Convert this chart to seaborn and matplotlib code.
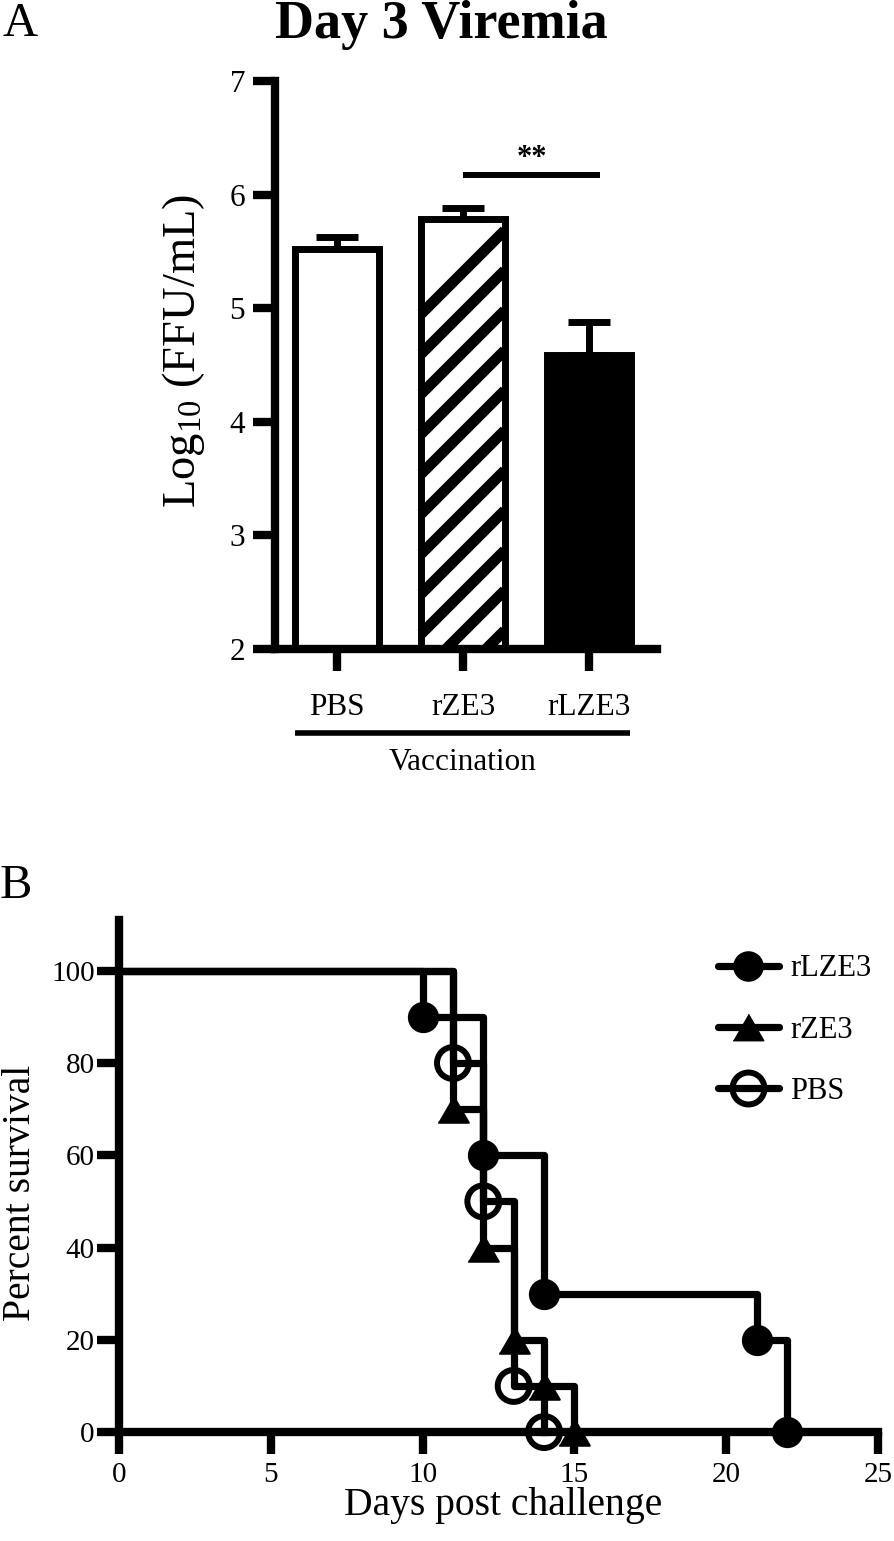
import matplotlib
matplotlib.use("Agg")
import matplotlib.pyplot as plt
import matplotlib.transforms as mtransforms
from matplotlib.lines import Line2D
from matplotlib.patches import Rectangle
import numpy as np
import pandas as pd
import seaborn as sns

# panel A: day 3 viremia (mean + SEM, log10 FFU/mL)
groups = ["PBS", "rZE3", "rLZE3"]
viremia_mean = [5.52, 5.78, 4.59]
viremia_sem = [0.11, 0.10, 0.29]
bar_colors = ["white", "white", "black"]

# panel B: survival after challenge
rlze3_days = [0, 10, 12, 14, 21, 22]
rlze3_pct = [100, 90, 60, 30, 20, 0]
rze3_days = [0, 11, 12, 13, 14, 15]
rze3_pct = [100, 70, 40, 20, 10, 0]
pbs_days = [0, 11, 12, 13, 14]
pbs_pct = [100, 80, 50, 10, 0]

sns.set_style("ticks")
plt.rcParams["font.family"] = ["Liberation Serif", "DejaVu Serif"]
plt.rcParams["mathtext.fontset"] = "custom"
plt.rcParams["mathtext.rm"] = "Liberation Serif"
plt.rcParams["mathtext.it"] = "Liberation Serif:italic"
plt.rcParams["mathtext.bf"] = "Liberation Serif:bold"
for key in ["axes.edgecolor", "xtick.color", "ytick.color", "text.color",
            "axes.labelcolor", "xtick.labelcolor", "ytick.labelcolor"]:
    plt.rcParams[key] = "black"

LW = 6  # axis line width (pt)
tri = [(-1, -0.866), (1, -0.866), (0, 0.866)]

fig = plt.figure(figsize=(8.95, 15.41), dpi=100)
ax1 = fig.add_axes([0.3073, 0.5789, 0.4268, 0.3686])
ax2 = fig.add_axes([0.1330, 0.0707, 0.8480, 0.3323])

# ---- panel A ----
sns.barplot(x=groups, y=viremia_mean, hue=groups, palette=bar_colors, saturation=1,
            edgecolor="black", linewidth=5, width=0.66, legend=False, ax=ax1, zorder=2)
ax1.errorbar(range(len(groups)), viremia_mean,
             yerr=[np.zeros(len(groups)), viremia_sem],
             fmt="none", ecolor="black", elinewidth=5, capsize=15, capthick=5, zorder=3)
ax1.set_xlim(-0.492, 2.54)
ax1.set_ylim(2, 7)
ax1.set_yticks([2, 3, 4, 5, 6, 7])

# diagonal hatching on the rZE3 bar
bar = [p for p in ax1.patches if abs(p.get_x() + p.get_width() / 2 - 1) < 0.01][0]
x0, x1 = bar.get_x(), bar.get_x() + bar.get_width()
y0, y1 = ax1.get_ylim()[0], bar.get_y() + bar.get_height()
(px0, py0), (px1, py1) = ax1.transData.transform([(x0, y0), (x1, y1)])
clip = Rectangle((x0, y0), x1 - x0, y1 - y0, transform=ax1.transData)
span = px1 - px0
for c in np.arange(py1 - 11 - span, py0 - span - 40, -40):
    hl = Line2D([px0, px1], [c, c + span], color="black", lw=7.8,
                solid_capstyle="butt", transform=mtransforms.IdentityTransform(), zorder=2.5)
    hl.set_clip_path(clip)
    ax1.add_line(hl)

# significance
ax1.plot([1, 2.09], [6.17, 6.17], color="black", lw=4.3, solid_capstyle="butt", zorder=3)
ax1.text(1.545, 6.19, "**", ha="center", va="bottom", fontsize=22, fontweight="bold")

sns.despine(ax=ax1)
for s in ["left", "bottom"]:
    ax1.spines[s].set_linewidth(LW)
ax1.tick_params(axis="both", width=LW, length=15.5, labelsize=22.5, color="black")
ax1.tick_params(axis="x", pad=16)
ax1.tick_params(axis="y", pad=6)
ax1.set_xlabel("Vaccination", fontsize=22.5)
ax1.xaxis.set_label_coords(0.492, -0.2007)
ax1.xaxis.label.set_va("center")
ax1.set_ylabel(r"Log$_{10}$ (FFU/mL)", fontsize=33.5)
ax1.yaxis.set_label_coords(-0.239, 0.524)
ax1.yaxis.label.set_va("center")
grp = mtransforms.blended_transform_factory(ax1.transData, ax1.transAxes)
ax1.plot([-0.333, 2.325], [-0.148, -0.148], color="black", lw=4, transform=grp,
         clip_on=False, solid_capstyle="butt")

fig.text(0.493, 1 - 38 / 1541, "Day 3 Viremia", ha="center", va="baseline",
         fontsize=39, fontweight="bold")
fig.text(0.003, 1 - 36 / 1541, "A", ha="left", va="baseline", fontsize=35)
fig.text(0.000, 1 - 898 / 1541, "B", ha="left", va="baseline", fontsize=35)

# ---- panel B ----
surv = pd.concat([
    pd.DataFrame({"day": rlze3_days, "pct": rlze3_pct, "group": "rLZE3"}),
    pd.DataFrame({"day": rze3_days, "pct": rze3_pct, "group": "rZE3"}),
    pd.DataFrame({"day": pbs_days, "pct": pbs_pct, "group": "PBS"}),
])
sns.lineplot(data=surv, x="day", y="pct", hue="group", palette=["black"] * 3,
             drawstyle="steps-post", lw=5.2, legend=False, ax=ax2, clip_on=False,
             solid_capstyle="projecting")

marker_style = {
    "rLZE3": dict(marker="o", s=21 ** 2, facecolor="black", edgecolor="black", linewidth=1.5),
    "rZE3": dict(marker=tri, s=22 ** 2, facecolor="black", edgecolor="black", linewidth=1.5),
    "PBS": dict(marker="o", s=23 ** 2, facecolor="none", edgecolor="black", linewidth=4.3),
}
for name, d in surv.groupby("group", sort=False):
    d = d[d["day"] > 0]
    sns.scatterplot(x=d["day"], y=d["pct"], ax=ax2, clip_on=False, zorder=4,
                    legend=False, **marker_style[name])

ax2.set_xlim(0, 25)
ax2.set_ylim(0, 111)
ax2.set_xticks([0, 5, 10, 15, 20, 25])
ax2.set_yticks([0, 20, 40, 60, 80, 100])
sns.despine(ax=ax2)
for s in ["left", "bottom"]:
    ax2.spines[s].set_linewidth(LW)
ax2.tick_params(axis="both", width=LW, length=15.5, labelsize=21, color="black")
ax2.tick_params(axis="x", pad=6)
ax2.tick_params(axis="y", pad=2)
ax2.set_xlabel("Days post challenge", fontsize=28.5)
ax2.xaxis.set_label_coords(0.506, -0.143)
ax2.xaxis.label.set_va("center")
ax2.set_ylabel("Percent survival", fontsize=28.5)
ax2.yaxis.set_label_coords(-0.130, 0.466)
ax2.yaxis.label.set_va("center")

handles = [
    Line2D([], [], color="black", lw=5.2, marker="o", markersize=21, markerfacecolor="black"),
    Line2D([], [], color="black", lw=5.2, marker=tri, markersize=22, markerfacecolor="black"),
    Line2D([], [], color="black", lw=5.2, marker="o", markersize=23, markerfacecolor="none",
           markeredgewidth=4.3),
]
ax2.legend(handles, ["rLZE3", "rZE3", "PBS"], loc="upper left", bbox_to_anchor=(0.789, 0.933),
           frameon=False, fontsize=22, handlelength=2.0, handletextpad=0.36,
           labelspacing=1.06, borderpad=0, borderaxespad=0)

fig.savefig("out.png", dpi=100)
